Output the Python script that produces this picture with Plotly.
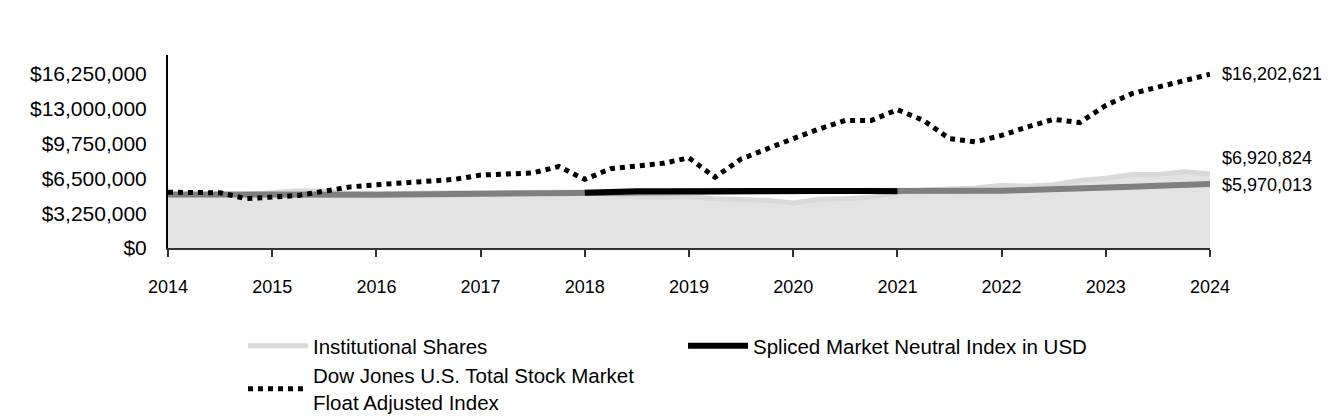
import plotly.graph_objects as go

# Quarterly dates (year fractions)
dates = [2014 + q * 0.25 for q in range(41)]

institutional = [5.00, 5.00, 4.95, 5.00, 5.15, 5.35, 5.30, 5.10, 5.05, 5.10,
                 5.20, 5.15, 5.15, 5.20, 5.25, 5.20, 5.20, 5.00, 4.80, 4.75,
                 4.80, 4.60, 4.55, 4.45, 4.20, 4.55, 4.60, 4.75, 5.15, 5.40,
                 5.50, 5.60, 5.85, 5.75, 5.90, 6.30, 6.50, 6.85, 6.85, 7.10,
                 6.920824]
institutional = [v * 1e6 for v in institutional]

spliced = [5.00, 4.98, 4.97, 4.95, 4.97, 5.00, 5.02, 4.98, 4.97, 5.00,
           5.02, 5.03, 5.05, 5.07, 5.10, 5.12, 5.15, 5.25, 5.30, 5.30,
           5.32, 5.32, 5.32, 5.32, 5.32, 5.32, 5.32, 5.32, 5.30, 5.25,
           5.25, 5.30, 5.35, 5.40, 5.45, 5.55, 5.65, 5.72, 5.80, 5.88,
           5.970013]
spliced = [v * 1e6 for v in spliced]

dow = [5.20, 5.20, 5.15, 4.60, 4.80, 4.90, 5.30, 5.70, 5.90, 6.10,
       6.30, 6.40, 6.80, 6.90, 7.00, 7.60, 6.40, 7.40, 7.70, 7.90,
       8.40, 6.60, 8.30, 9.30, 10.20, 11.10, 11.90, 11.90, 12.90, 11.90,
       10.20, 9.90, 10.50, 11.30, 12.00, 11.70, 13.30, 14.40, 15.00, 15.70,
       16.202621]
dow = [v * 1e6 for v in dow]

y_ticks = [0, 3250000, 6500000, 9750000, 13000000, 16250000]
x_ticks = list(range(2014, 2025))

# portion of the spliced index drawn in black
black_start, black_end = 16, 29

FONT = "Liberation Sans, Arial, sans-serif"

fig = go.Figure()

fig.add_trace(go.Scatter(x=dates, y=institutional, mode="lines",
                         line=dict(color="rgba(0,0,0,0)", width=0),
                         fill="tozeroy", fillcolor="#e3e3e3",
                         showlegend=False, hoverinfo="skip"))
fig.add_trace(go.Scatter(x=dates, y=institutional, mode="lines",
                         name="Institutional Shares",
                         line=dict(color="#d9d9d9", width=5),
                         legendrank=1))
fig.add_trace(go.Scatter(x=dates, y=spliced, mode="lines",
                         line=dict(color="#7f7f7f", width=6),
                         showlegend=False))
fig.add_trace(go.Scatter(x=dates[black_start:black_end], y=spliced[black_start:black_end],
                         mode="lines", name="Spliced Market Neutral Index in USD",
                         line=dict(color="#000000", width=6),
                         legendrank=2))
fig.add_trace(go.Scatter(x=dates, y=dow, mode="lines",
                         name="Dow Jones U.S. Total Stock Market<br>Float Adjusted Index",
                         line=dict(color="#000000", width=5, dash="dot"),
                         legendrank=3))

# end labels
for series, ysh in ((dow, 0), (institutional, 16), (spliced, -1)):
    fig.add_annotation(x=dates[-1], y=series[-1], text="${:,.0f}".format(series[-1]),
                       showarrow=False, xanchor="left", xshift=10, yshift=ysh,
                       font=dict(family=FONT, size=18, color="#000000"))

fig.update_layout(
    width=1344, height=420,
    margin=dict(l=160, r=142, t=47, b=180, autoexpand=False),
    paper_bgcolor="white", plot_bgcolor="white",
    font=dict(family=FONT, size=18, color="#000000"),
    showlegend=True,
    legend=dict(orientation="h", x=0.072, xanchor="left", y=-0.404, yanchor="top",
                entrywidth=365, entrywidthmode="pixels", itemwidth=60,
                traceorder="normal", font=dict(family=FONT, size=20.5),
                tracegroupgap=0, bgcolor="rgba(0,0,0,0)"),
    xaxis=dict(range=[2014, 2024], tickvals=x_ticks, ticktext=[str(t) for t in x_ticks],
               showgrid=False, zeroline=False, showline=True, linecolor="#333333",
               linewidth=2, ticks="outside", ticklen=7, tickwidth=2, tickcolor="#333333",
               ticklabelstandoff=14, tickfont=dict(family=FONT, size=18),
               automargin=False),
    yaxis=dict(range=[0, 18000000], tickvals=y_ticks,
               ticktext=["${:,.0f}".format(v) for v in y_ticks],
               showgrid=False, zeroline=False, showline=True, linecolor="#000000",
               linewidth=2, ticks="", ticklabelstandoff=15,
               tickfont=dict(family=FONT, size=21), automargin=False),
)

fig.write_html("out.html")
